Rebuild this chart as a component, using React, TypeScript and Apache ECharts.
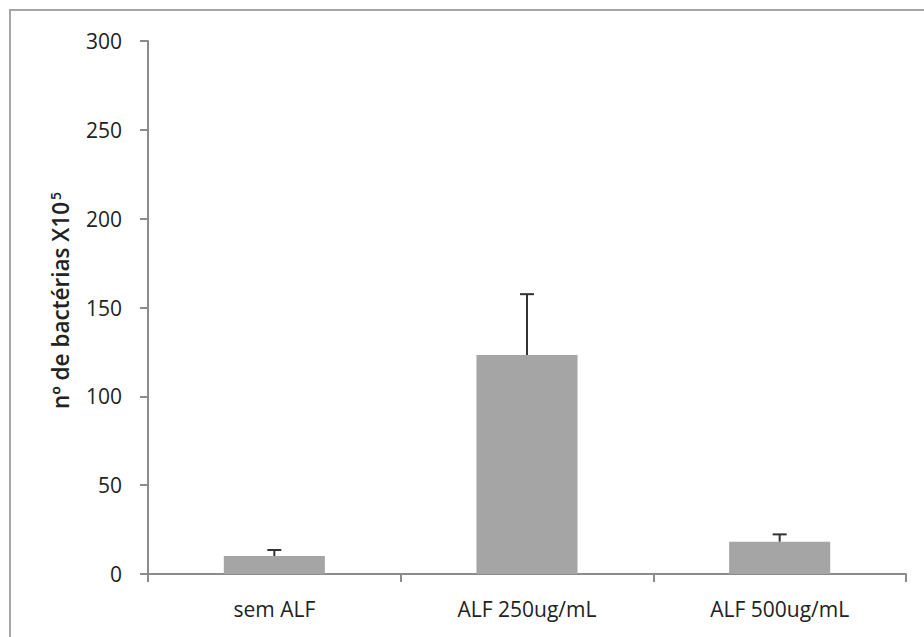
import React, { useEffect, useRef } from "react";
import * as echarts from "echarts";

const categories = ["sem ALF", "ALF 250ug/mL", "ALF 500ug/mL"];
const values = [10.1, 123.2, 18.2];
const errorHigh = [13.5, 157.5, 22.3];
const yTicks = { min: 0, max: 300, interval: 50 };

export default function App() {
  const ref = useRef<HTMLDivElement>(null);
  useEffect(() => {
    const chart = echarts.init(ref.current!, null, { renderer: "svg" });
    const font = "Open Sans";
    chart.setOption({
      animation: false,
      backgroundColor: "#ffffff",
      graphic: [
        {
          type: "rect",
          shape: { x: 10, y: 10, width: 940, height: 660 },
          style: { fill: "none", stroke: "#a6a6a6", lineWidth: 2 },
          silent: true,
        },
      ],
      grid: { left: 148, right: 18, top: 41, bottom: 63 },
      xAxis: {
        type: "category",
        data: categories,
        axisLine: { lineStyle: { color: "#8c8c8c", width: 2 } },
        axisTick: { show: true, length: 8, lineStyle: { color: "#8c8c8c", width: 2 } },
        axisLabel: { color: "#222", fontFamily: font, fontSize: 21, margin: 24 },
      },
      yAxis: {
        type: "value",
        min: yTicks.min,
        max: yTicks.max,
        interval: yTicks.interval,
        name: "{a|nº de bactérias X10}{b|5}",
        nameLocation: "middle",
        nameGap: 76,
        nameTextStyle: {
          padding: [0, 0, 0, 14],
          rich: {
            a: { fontFamily: font, fontSize: 22.5, fontWeight: 600, color: "#222" },
            b: { fontFamily: font, fontSize: 14, fontWeight: 600, color: "#222", padding: [0, 0, 10, 2] },
          },
        },
        splitLine: { show: false },
        axisLine: { show: true, lineStyle: { color: "#8c8c8c", width: 2 } },
        axisTick: { show: true, length: 8, lineStyle: { color: "#8c8c8c", width: 2 } },
        axisLabel: { color: "#222", fontFamily: font, fontSize: 21, margin: 26 },
      },
      series: [
        {
          type: "bar",
          data: values,
          barWidth: "40%",
          itemStyle: { color: "#a5a5a5" },
        },
        {
          type: "custom",
          data: values.map((v, i) => [i, v, errorHigh[i]]),
          renderItem: (params: any, api: any) => {
            const x = api.value(0);
            const base = api.coord([x, api.value(1)]);
            const top = api.coord([x, api.value(2)]);
            const half = 7;
            const style = { stroke: "#333", lineWidth: 2 };
            return {
              type: "group",
              children: [
                { type: "line", shape: { x1: base[0], y1: base[1], x2: top[0], y2: top[1] }, style },
                { type: "line", shape: { x1: top[0] - half, y1: top[1], x2: top[0] + half, y2: top[1] }, style },
              ],
            };
          },
          z: 5,
        },
      ],
    });
    return () => chart.dispose();
  }, []);
  return (
    <div
      ref={ref}
      style={{ position: "fixed", left: 0, top: 0, width: 924, height: 637 }}
    />
  );
}
